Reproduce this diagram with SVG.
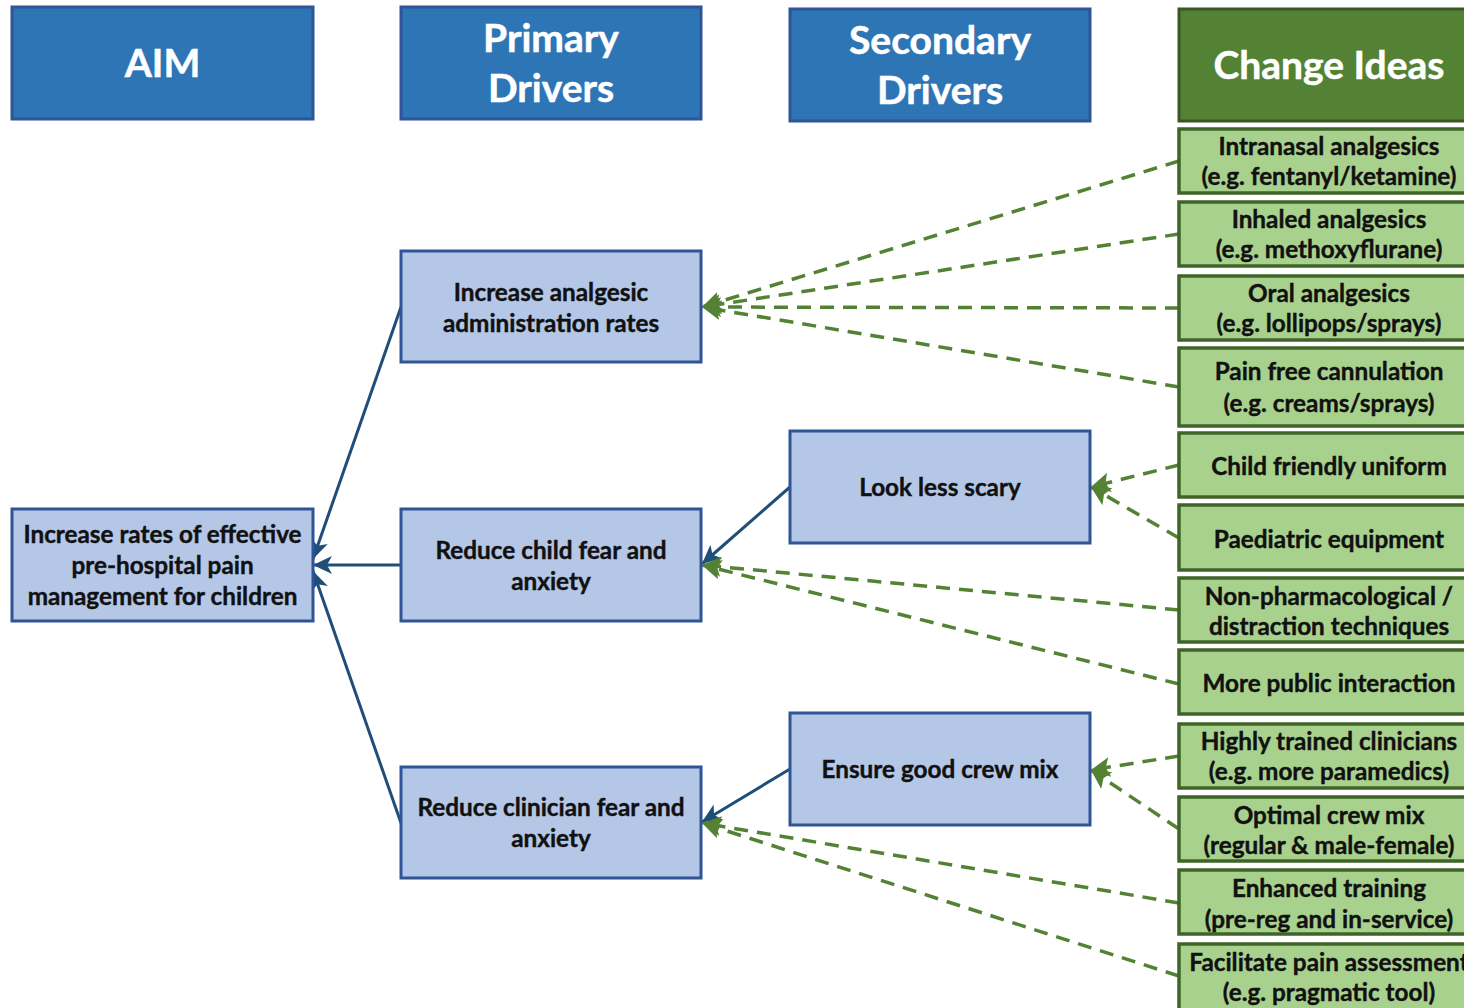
<svg xmlns="http://www.w3.org/2000/svg" width="1464" height="1008" viewBox="0 0 1464 1008">
  <defs>
    <style>
      .hdr { fill: #2E75B6; stroke: #2F5597; stroke-width: 3; }
      .hdr-g { fill: #548235; stroke: #385723; stroke-width: 3; }
      .drv { fill: #B4C7E7; stroke: #2F5597; stroke-width: 3; }
      .idea { fill: #A9D18E; stroke: #3F6428; stroke-width: 3.5; }
      .ht { font-family: Lato, "Open Sans", sans-serif; font-weight: bold; font-size: 39px; fill: #FFFFFF; stroke: #FFFFFF; stroke-width: 0.5; text-anchor: middle; }
      .t { font-family: Lato, "Open Sans", sans-serif; font-weight: bold; font-size: 24.3px; fill: #111111; stroke: #111111; stroke-width: 0.4; text-anchor: middle; }
      .solid { fill: none; stroke: #1F4E79; stroke-width: 3; marker-end: url(#arrowBlue); }
      .dash { fill: none; stroke: #548235; stroke-width: 3.5; stroke-dasharray: 14 9; marker-end: url(#arrowGreen); }
    </style>
    <marker id="arrowBlue" markerUnits="userSpaceOnUse" markerWidth="22" markerHeight="20" refX="19" refY="10" orient="auto">
      <path d="M0,1 L19,10 L0,19 L5,10 Z" fill="#1F4E79"/>
    </marker>
    <marker id="arrowGreen" markerUnits="userSpaceOnUse" markerWidth="22" markerHeight="22" refX="19" refY="11" orient="auto">
      <path d="M0,1 L19,11 L0,21 L4,11 Z" fill="#548235"/>
    </marker>
  </defs>

  <!-- column headers -->
  <g id="hdr-aim">
    <rect class="hdr" x="12" y="7" width="301" height="112"/>
    <text class="ht" x="162.5" y="77">AIM</text>
  </g>
  <g id="hdr-primary">
    <rect class="hdr" x="401" y="7" width="300" height="112"/>
    <text class="ht" x="551" y="52">Primary</text>
    <text class="ht" x="551" y="102">Drivers</text>
  </g>
  <g id="hdr-secondary">
    <rect class="hdr" x="790" y="9" width="300" height="112"/>
    <text class="ht" x="940" y="54">Secondary</text>
    <text class="ht" x="940" y="104">Drivers</text>
  </g>
  <g id="hdr-ideas">
    <rect class="hdr-g" x="1179" y="9" width="300" height="112"/>
    <text class="ht" x="1329" y="79">Change Ideas</text>
  </g>

  <!-- connectors -->
  <g id="connectors">
    <line class="solid" x1="401" y1="307" x2="313" y2="559"/>
    <line class="solid" x1="401" y1="565" x2="313" y2="565"/>
    <line class="solid" x1="401" y1="823" x2="313" y2="571"/>
    <line class="solid" x1="790" y1="487" x2="702" y2="564"/>
    <line class="solid" x1="790" y1="769" x2="702" y2="822"/>

    <line class="dash" x1="1179" y1="161" x2="702" y2="307"/>
    <line class="dash" x1="1179" y1="234" x2="702" y2="307"/>
    <line class="dash" x1="1179" y1="308" x2="702" y2="307"/>
    <line class="dash" x1="1179" y1="387" x2="702" y2="307"/>

    <line class="dash" x1="1179" y1="465" x2="1091" y2="487"/>
    <line class="dash" x1="1179" y1="538" x2="1091" y2="487"/>

    <line class="dash" x1="1179" y1="610" x2="702" y2="565"/>
    <line class="dash" x1="1179" y1="684" x2="702" y2="565"/>

    <line class="dash" x1="1179" y1="756" x2="1091" y2="770"/>
    <line class="dash" x1="1179" y1="829" x2="1091" y2="770"/>

    <line class="dash" x1="1179" y1="903" x2="702" y2="823"/>
    <line class="dash" x1="1179" y1="976" x2="702" y2="823"/>
  </g>

  <!-- aim -->
  <g id="aim">
    <rect class="drv" x="12" y="509" width="301" height="112"/>
    <text class="t" x="162.5" y="543">Increase rates of effective</text>
    <text class="t" x="162.5" y="574">pre-hospital pain</text>
    <text class="t" x="162.5" y="605">management for children</text>
  </g>

  <!-- primary drivers -->
  <g id="primary-analgesic">
    <rect class="drv" x="401" y="251" width="300" height="111"/>
    <text class="t" x="551" y="301">Increase analgesic</text>
    <text class="t" x="551" y="332">administration rates</text>
  </g>
  <g id="primary-child-fear">
    <rect class="drv" x="401" y="509" width="300" height="112"/>
    <text class="t" x="551" y="559">Reduce child fear and</text>
    <text class="t" x="551" y="590">anxiety</text>
  </g>
  <g id="primary-clinician-fear">
    <rect class="drv" x="401" y="767" width="300" height="111"/>
    <text class="t" x="551" y="816">Reduce clinician fear and</text>
    <text class="t" x="551" y="847">anxiety</text>
  </g>

  <!-- secondary drivers -->
  <g id="secondary-scary">
    <rect class="drv" x="790" y="431" width="300" height="112"/>
    <text class="t" x="940" y="496">Look less scary</text>
  </g>
  <g id="secondary-crew">
    <rect class="drv" x="790" y="713" width="300" height="112"/>
    <text class="t" x="940" y="778">Ensure good crew mix</text>
  </g>

  <!-- change ideas -->
  <g id="idea-intranasal">
    <rect class="idea" x="1179" y="129" width="300" height="64"/>
    <text class="t" x="1329" y="155">Intranasal analgesics</text>
    <text class="t" x="1329" y="185">(e.g. fentanyl/ketamine)</text>
  </g>
  <g id="idea-inhaled">
    <rect class="idea" x="1179" y="202" width="300" height="64"/>
    <text class="t" x="1329" y="228">Inhaled analgesics</text>
    <text class="t" x="1329" y="258">(e.g. methoxyflurane)</text>
  </g>
  <g id="idea-oral">
    <rect class="idea" x="1179" y="276" width="300" height="64"/>
    <text class="t" x="1329" y="302">Oral analgesics</text>
    <text class="t" x="1329" y="332">(e.g. lollipops/sprays)</text>
  </g>
  <g id="idea-cannulation">
    <rect class="idea" x="1179" y="348" width="300" height="78"/>
    <text class="t" x="1329" y="380">Pain free cannulation</text>
    <text class="t" x="1329" y="412">(e.g. creams/sprays)</text>
  </g>
  <g id="idea-uniform">
    <rect class="idea" x="1179" y="433" width="300" height="64"/>
    <text class="t" x="1329" y="475">Child friendly uniform</text>
  </g>
  <g id="idea-equipment">
    <rect class="idea" x="1179" y="505" width="300" height="65"/>
    <text class="t" x="1329" y="548">Paediatric equipment</text>
  </g>
  <g id="idea-distraction">
    <rect class="idea" x="1179" y="578" width="300" height="64"/>
    <text class="t" x="1329" y="605">Non-pharmacological /</text>
    <text class="t" x="1329" y="635">distraction techniques</text>
  </g>
  <g id="idea-public">
    <rect class="idea" x="1179" y="650" width="300" height="64"/>
    <text class="t" x="1329" y="692">More public interaction</text>
  </g>
  <g id="idea-clinicians">
    <rect class="idea" x="1179" y="724" width="300" height="64"/>
    <text class="t" x="1329" y="750">Highly trained clinicians</text>
    <text class="t" x="1329" y="780">(e.g. more paramedics)</text>
  </g>
  <g id="idea-crew">
    <rect class="idea" x="1179" y="797" width="300" height="64"/>
    <text class="t" x="1329" y="824">Optimal crew mix</text>
    <text class="t" x="1329" y="854">(regular &amp; male-female)</text>
  </g>
  <g id="idea-training">
    <rect class="idea" x="1179" y="870" width="300" height="64"/>
    <text class="t" x="1329" y="897">Enhanced training</text>
    <text class="t" x="1329" y="928">(pre-reg and in-service)</text>
  </g>
  <g id="idea-assessment">
    <rect class="idea" x="1179" y="944" width="300" height="70"/>
    <text class="t" x="1329" y="971">Facilitate pain assessment</text>
    <text class="t" x="1329" y="1001">(e.g. pragmatic tool)</text>
  </g>
</svg>
